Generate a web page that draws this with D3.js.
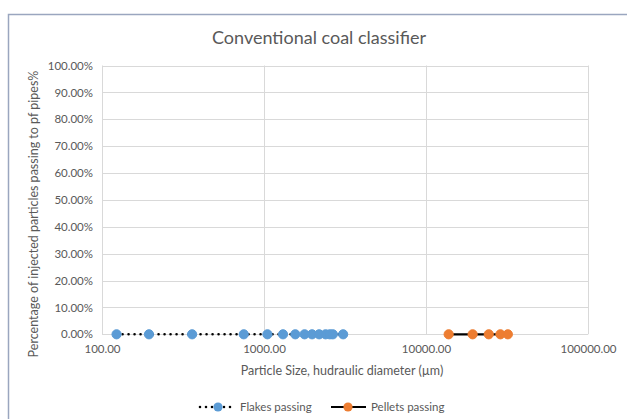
<!DOCTYPE html>
<html>
<head>
<meta charset="utf-8">
<script src="https://cdn.jsdelivr.net/npm/d3@7"></script>
<style>
  html, body { margin: 0; padding: 0; background: #ffffff; }
  svg { display: block; font-family: Lato, "Open Sans", sans-serif; }
</style>
</head>
<body>
<svg id="chart" width="627" height="419"></svg>
<script>
// Particle sizes (hydraulic diameter, µm) and share passing to the pf pipes
const flakesSize = [123, 195, 360, 750, 1050, 1310, 1560, 1780, 1980, 2190, 2400, 2550, 2660, 3080];
const flakesPassing = [0, 0, 0, 0, 0, 0, 0, 0, 0, 0, 0, 0, 0, 0];
const pelletsSize = [13800, 19400, 24400, 28800, 32000];
const pelletsPassing = [0, 0, 0, 0, 0];

const xTicks = [100, 1000, 10000, 100000];
const yTicks = [0, 0.1, 0.2, 0.3, 0.4, 0.5, 0.6, 0.7, 0.8, 0.9, 1.0];

const chartTitle = "Conventional coal classifier";
const xTitle = "Particle Size, hudraulic diameter (\u00b5m)";
const yTitle = "Percentage of injected particles passing to pf pipes%";
const seriesNames = ["Flakes passing", "Pellets passing"];

const svg = d3.select("#chart");
const W = 627, H = 419;
const plot = { left: 102, right: 588, top: 65.5, bottom: 334.3 };
const textColor = "#595959";
const gridColor = "#d9d9d9";
const flakesColor = "#5b9bd5";
const pelletsColor = "#ed7d31";

const x = d3.scaleLog().domain([100, 100000]).range([plot.left, plot.right]);
const y = d3.scaleLinear().domain([0, 1]).range([plot.bottom, plot.top]);

// chart frame
svg.append("rect")
  .attr("x", 8.5).attr("y", 14.5)
  .attr("width", W + 10).attr("height", H + 10)
  .attr("fill", "#ffffff")
  .attr("stroke", "#9aa6bf").attr("stroke-width", 1.5);

// title
svg.append("text")
  .attr("x", 319).attr("y", 44)
  .attr("text-anchor", "middle")
  .attr("font-size", 18)
  .attr("fill", textColor)
  .text(chartTitle);

// gridlines
const grid = svg.append("g");
grid.selectAll("line.h").data(yTicks).join("line")
  .attr("x1", plot.left).attr("x2", plot.right)
  .attr("y1", d => Math.round(y(d)) + 0.5).attr("y2", d => Math.round(y(d)) + 0.5)
  .attr("stroke", gridColor).attr("stroke-width", 1);
grid.selectAll("line.v").data(xTicks).join("line")
  .attr("x1", d => Math.round(x(d)) + 0.5).attr("x2", d => Math.round(x(d)) + 0.5)
  .attr("y1", plot.top).attr("y2", plot.bottom)
  .attr("stroke", gridColor).attr("stroke-width", 1);

// axes (labels only, lines are the gridlines)
const xAxis = d3.axisBottom(x).tickValues(xTicks).tickFormat(d3.format(".2f")).tickSize(0).tickPadding(11);
const yAxis = d3.axisLeft(y).tickValues(yTicks).tickFormat(d3.format(".2%")).tickSize(0).tickPadding(9);

const gx = svg.append("g").attr("transform", `translate(0,${plot.bottom})`).call(xAxis);
const gy = svg.append("g").attr("transform", `translate(${plot.left},0)`).call(yAxis);
[gx, gy].forEach(g => {
  g.select(".domain").remove();
  g.selectAll("text").attr("fill", textColor).attr("font-size", 11.5).attr("font-family", "Lato, sans-serif");
});

// axis titles
svg.append("text")
  .attr("x", 342).attr("y", 375)
  .attr("text-anchor", "middle")
  .attr("font-size", 12.5)
  .attr("fill", textColor)
  .text(xTitle);

svg.append("text")
  .attr("transform", `translate(38,214) rotate(-90)`)
  .attr("text-anchor", "middle")
  .attr("font-size", 12.5)
  .attr("fill", textColor)
  .text(yTitle);

// series
const line = d3.line().x(d => x(d[0])).y(d => y(d[1]));
const flakes = d3.zip(flakesSize, flakesPassing);
const pellets = d3.zip(pelletsSize, pelletsPassing);

svg.append("path").datum(flakes)
  .attr("d", line).attr("fill", "none")
  .attr("stroke", "#000").attr("stroke-width", 2.6)
  .attr("stroke-linecap", "round").attr("stroke-dasharray", "0,6");
svg.append("path").datum(pellets)
  .attr("d", line).attr("fill", "none")
  .attr("stroke", "#000").attr("stroke-width", 2.2);

svg.append("g").selectAll("circle").data(flakes).join("circle")
  .attr("cx", d => x(d[0])).attr("cy", d => y(d[1])).attr("r", 4.6)
  .attr("fill", flakesColor).attr("stroke", flakesColor);
svg.append("g").selectAll("circle").data(pellets).join("circle")
  .attr("cx", d => x(d[0])).attr("cy", d => y(d[1])).attr("r", 4.6)
  .attr("fill", pelletsColor).attr("stroke", pelletsColor);

// legend
const legend = svg.append("g").attr("transform", "translate(0,407)");
const legendItems = [
  { name: seriesNames[0], color: flakesColor, dash: "0,6", x0: 200, x1: 234, mx: 218, tx: 240 },
  { name: seriesNames[1], color: pelletsColor, dash: null, x0: 331, x1: 366, mx: 348, tx: 371 }
];
legendItems.forEach(it => {
  legend.append("line")
    .attr("x1", it.x0).attr("x2", it.x1).attr("y1", 0).attr("y2", 0)
    .attr("stroke", "#000").attr("stroke-width", it.dash ? 2.6 : 2.2)
    .attr("stroke-linecap", it.dash ? "round" : "butt")
    .attr("stroke-dasharray", it.dash);
  legend.append("circle").attr("cx", it.mx).attr("cy", 0).attr("r", 4.6)
    .attr("fill", it.color);
  legend.append("text").attr("x", it.tx).attr("y", 4.2)
    .attr("font-size", 11.5).attr("fill", textColor).text(it.name);
});
</script>
</body>
</html>
